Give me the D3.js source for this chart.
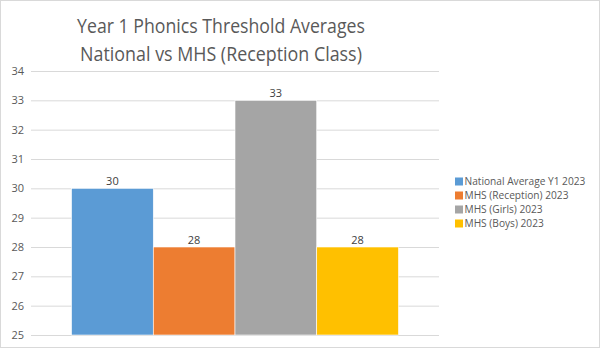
<!DOCTYPE html>
<html><head><meta charset="utf-8">
<script src="https://cdn.jsdelivr.net/npm/d3@7"></script>
<style>body{margin:0;background:#fff}svg{display:block}text{font-family:"Open Sans",sans-serif}</style>
</head><body><svg id="c" width="600" height="348"></svg>
<script>
const titleLines = ["Year 1 Phonics Threshold Averages", "National vs MHS (Reception Class)"];
const categories = [""];
const seriesNames = ["National Average Y1 2023", "MHS (Reception) 2023", "MHS (Girls) 2023", "MHS (Boys) 2023"];
const seriesValues = [30, 28, 33, 28];
const seriesColors = ["#5b9bd5", "#ed7d31", "#a5a5a5", "#ffc000"];
const yTicks = [25, 26, 27, 28, 29, 30, 31, 32, 33, 34];

const svg = d3.select("#c");
svg.append("rect").attr("x",0.5).attr("y",0.5).attr("width",599).attr("height",347)
  .attr("fill","#fff").attr("stroke","#d9d9d9");

const plot = {l:31, r:439, t:71, b:335};
const y = d3.scaleLinear().domain([25,34]).range([plot.b, plot.t]);
const x0 = d3.scaleBand().domain(categories).range([plot.l, plot.r]).paddingInner(0).paddingOuter(0.124);
const x1 = d3.scaleBand().domain(seriesNames).range([0, x0.bandwidth()]);

const yAxis = d3.axisLeft(y).tickValues(yTicks).tickSize(-(plot.r-plot.l)).tickPadding(7).tickFormat(d3.format("d"));
const ga = svg.append("g").attr("transform",`translate(${plot.l},0)`).call(yAxis);
ga.select(".domain").remove();
ga.selectAll(".tick line").attr("stroke","#d9d9d9").attr("stroke-width",1);
ga.selectAll(".tick text").attr("fill","#595959").style("font-size","11px").style("font-family","'Open Sans',sans-serif");

const g = svg.append("g");
categories.forEach(cat=>{
  seriesNames.forEach((s,i)=>{
    const bx = x0(cat)+x1(s);
    g.append("rect").attr("x",bx).attr("y",y(seriesValues[i]))
      .attr("width",x1.bandwidth()).attr("height",y(25)-y(seriesValues[i]))
      .attr("fill",seriesColors[i]).attr("stroke","#fff").attr("stroke-width",0.6);
    g.append("text").attr("x",bx+x1.bandwidth()/2).attr("y",y(seriesValues[i])-3)
      .attr("text-anchor","middle").attr("fill","#404040").style("font-size","11px")
      .text(seriesValues[i]);
  });
});

// title (horizontally condensed to match original proportions)
const titleW = [288, 282];
titleLines.forEach((t,i)=>{
  const gg = svg.append("g");
  const tx = gg.append("text").attr("x",0).attr("y",0).attr("text-anchor","middle")
    .attr("fill","#595959").style("font-size","20px").text(t);
  const w = tx.node().getComputedTextLength();
  gg.attr("transform",`translate(221,${32.5+i*28}) scale(${titleW[i]/w},1)`);
});

// legend
const lg = svg.append("g");
let lsx = null;
seriesNames.forEach((s,i)=>{
  const row = lg.append("g").attr("transform",`translate(455,${185+i*14})`);
  row.append("rect").attr("x",0).attr("y",-7.5).attr("width",8).attr("height",8).attr("fill",seriesColors[i]);
  const tg = row.append("g");
  const tx = tg.append("text").attr("x",0).attr("y",0).attr("fill","#595959").style("font-size","11px").text(s);
  if (lsx === null) lsx = 121/tx.node().getComputedTextLength();
  tg.attr("transform",`translate(9.5,0) scale(${lsx},1)`);
});
</script></body></html>
